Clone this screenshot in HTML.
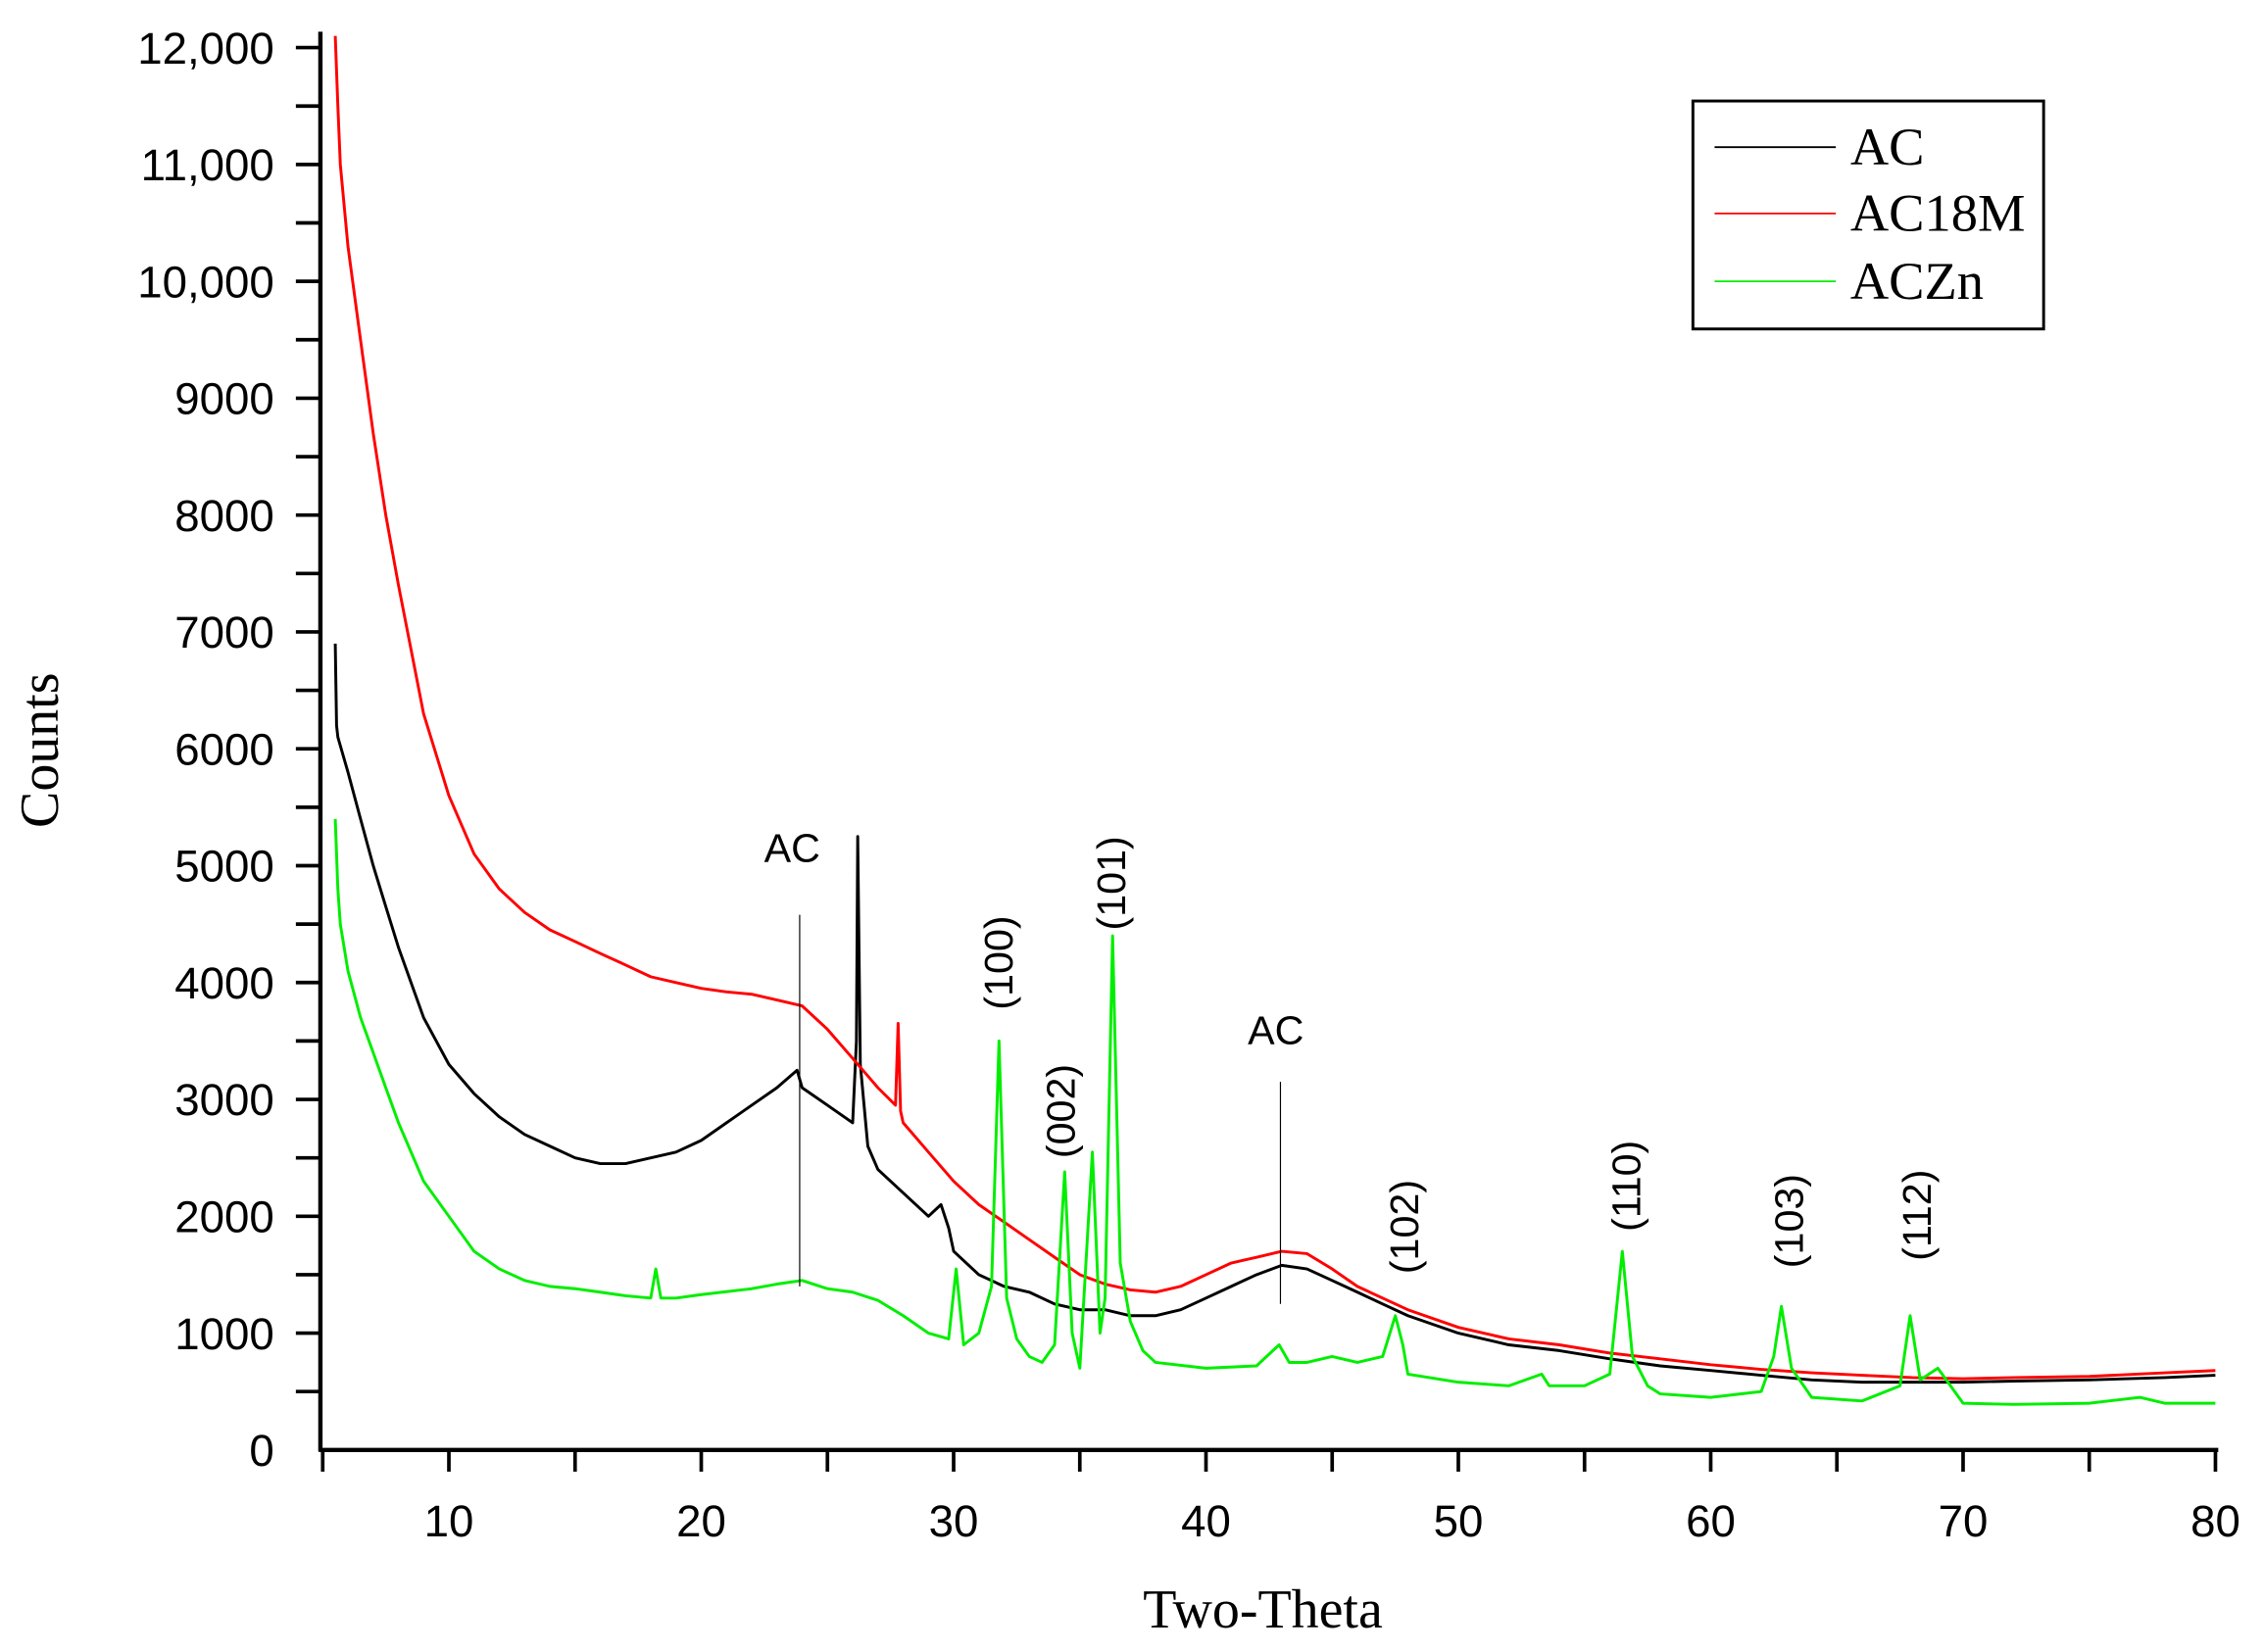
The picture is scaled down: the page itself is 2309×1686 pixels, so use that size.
<!DOCTYPE html>
<html><head><meta charset="utf-8"><style>
html,body{margin:0;padding:0;background:#fff;}
svg{display:block;}
</style></head><body>
<svg id="chart" width="2309" height="1686" viewBox="0 0 1568 1145" preserveAspectRatio="none" xmlns="http://www.w3.org/2000/svg">
<rect x="0" y="0" width="1568" height="1145" fill="#fff"/>
<g id="plot"></g>
<g id="axes"></g>
<g id="legend">
<rect x="1173" y="70" width="243" height="158" fill="#fff" stroke="#000" stroke-width="2"/>
<line x1="1188" y1="102" x2="1272" y2="102" stroke="#000" stroke-width="1.2"/>
<text x="1282" y="114" font-family="Liberation Serif, serif" font-size="37">AC</text>
<line x1="1188" y1="148" x2="1272" y2="148" stroke="#f00" stroke-width="1.2"/>
<text x="1282" y="160" font-family="Liberation Serif, serif" font-size="37">AC18M</text>
<line x1="1188" y1="195" x2="1272" y2="195" stroke="#0e0" stroke-width="1.2"/>
<text x="1282" y="207" font-family="Liberation Serif, serif" font-size="37">ACZn</text>
</g>
</svg>
<script>
const acX=[5.5,5.55,5.6,6,6.5,7,7.5,8,9,10,11,12,13,14,15,16,17,18,19,20,21,22,23,23.8,24,25,26,26.15,26.2,26.3,26.6,27,28,29,29.5,29.8,30,31,32,33,34,35,36,37,38,39,40,41,42,43,44,45,46,47,48,50,52,54,56,58,60,62,64,66,68,70,72,75,78,80];
const acY=[6900,6200,6100,5800,5400,5000,4650,4300,3700,3300,3050,2850,2700,2600,2500,2450,2450,2500,2550,2650,2800,2950,3100,3250,3100,2950,2800,3500,5250,3300,2600,2400,2200,2000,2100,1900,1700,1500,1400,1350,1250,1200,1200,1150,1150,1200,1300,1400,1500,1580,1550,1450,1350,1250,1150,1000,900,850,780,720,680,640,600,580,580,580,590,600,620,640];
const m18X=[5.5,5.6,5.7,6,6.5,7,7.5,8,9,10,11,12,13,14,15,16,17,18,19,20,21,22,23,24,25,26,27,27.7,27.8,27.9,28,29,30,31,32,33,34,35,36,37,38,39,40,41,42,43,44,45,46,47,48,50,52,54,56,58,60,62,64,66,68,70,72,75,78,80];
const m18Y=[12100,11500,11000,10300,9500,8700,8000,7400,6300,5600,5100,4800,4600,4450,4350,4250,4150,4050,4000,3950,3920,3900,3850,3800,3600,3350,3100,2950,3650,2900,2800,2550,2300,2100,1950,1800,1650,1500,1420,1370,1350,1400,1500,1600,1650,1700,1680,1550,1400,1300,1200,1050,950,900,830,780,730,690,660,640,620,610,620,630,660,680];
const znX=[5.5,5.6,5.7,6,6.5,7,7.5,8,9,10,11,12,13,14,15,16,17,18,18.2,18.4,19,20,22,23,24,25,26,27,28,29,29.8,30.1,30.4,31,31.5,31.8,32.1,32.5,33,33.5,34,34.4,34.7,35,35.5,35.8,36,36.3,36.6,37,37.5,38,40,42,42.9,43.3,44,45,46,47,47.5,47.8,48,50,52,53.3,53.6,55,56,56.5,56.9,57.5,58,60,62,62.5,62.8,63.2,64,66,67.5,67.9,68.3,69,70,72,75,77,78,80];
const znY=[5400,4800,4500,4100,3700,3400,3100,2800,2300,2000,1700,1550,1450,1400,1380,1350,1320,1300,1550,1300,1300,1330,1380,1420,1450,1380,1350,1280,1150,1000,950,1550,900,1000,1400,3500,1300,950,800,750,900,2380,1000,700,2550,1000,1300,4400,1600,1100,850,750,700,720,900,750,750,800,750,800,1150,900,650,580,550,650,550,550,650,1700,800,550,480,450,500,800,1230,700,450,420,550,1150,600,700,400,390,400,450,400,400];
const xTicks=[10,20,30,40,50,60,70,80];
const yTicks=[0,1000,2000,3000,4000,5000,6000,7000,8000,9000,10000,11000,12000];
const yTickLabels=["0","1000","2000","3000","4000","5000","6000","7000","8000","9000","10,000","11,000","12,000"];
const annX=[23.6,31.79,34.25,36.25,42.77,47.86,56.67,63.1,68.17];
const annY=[5150,4170,2900,4850,3590,1910,2260,1960,2010];
const annText=["AC","(100)","(002)","(101)","AC","(102)","(110)","(103)","(112)"];
const annRot=[0,1,1,1,0,1,1,1,1];
const dropX=[23.9,42.95];
const dropTop=[4580,3150];
const dropBot=[1400,1250];

const NS="http://www.w3.org/2000/svg";
function sx(v){return 223.6+(v-5)*17.486;}
function sy(v){return 1005-v*0.081;}
const plot=document.getElementById('plot');
const axes=document.getElementById('axes');
function mk(tag,attrs,parent){const e=document.createElementNS(NS,tag);for(const k in attrs)e.setAttribute(k,attrs[k]);parent.appendChild(e);return e;}

function series(xs,ys,color,name){
  const p=mk('polyline',{points:xs.map((x,i)=>sx(x).toFixed(1)+','+sy(ys[i]).toFixed(1)).join(' '),fill:'none',stroke:color,'stroke-width':2,'stroke-linejoin':'round'},plot);
  
  
}
series(acX,acY,'#000','series-ac');
series(m18X,m18Y,'#f00','series-ac18m');
series(znX,znY,'#0e0','series-aczn');
dropX.forEach((x,i)=>{
  const l=mk('line',{x1:sx(x),x2:sx(x),y1:sy(dropTop[i]),y2:sy(dropBot[i]),stroke:'#000','stroke-width':0.8},plot);
  
  
});
annX.forEach((x,i)=>{
  const t=mk('text',{x:sx(x),y:sy(annY[i]),'font-family':'Liberation Sans, sans-serif','font-size':28,'text-anchor':'middle','dominant-baseline':'central'},plot);
  if(annRot[i])t.setAttribute('transform','rotate(-90 '+sx(x)+' '+sy(annY[i])+')');
  t.textContent=annText[i];
  
  
});

const ya=mk('line',{x1:222,x2:222,y1:22,y2:1006,stroke:'#000','stroke-width':3},axes);


const xa=mk('line',{x1:221,x2:1537,y1:1005,y2:1005,stroke:'#000','stroke-width':3},axes);


for(let v=500;v<=12000;v+=500){
  const t=mk('line',{x1:205,x2:222,y1:sy(v),y2:sy(v),stroke:'#000','stroke-width':2.5},axes);
  
  
}
yTicks.forEach((v,i)=>{
  const t=mk('text',{x:190,y:sy(v)+11,'font-family':'Liberation Sans, sans-serif','font-size':31,'text-anchor':'end'},axes);
  t.textContent=yTickLabels[i];
  
  
});
for(let v=5;v<=80;v+=5){
  const t=mk('line',{x1:sx(v),x2:sx(v),y1:1005,y2:1020,stroke:'#000','stroke-width':2.5},axes);
  
  
}
xTicks.forEach(v=>{
  const t=mk('text',{x:sx(v),y:1065,'font-family':'Liberation Sans, sans-serif','font-size':31,'text-anchor':'middle'},axes);
  t.textContent=String(v);
  
  
});
const xt=mk('text',{x:875,y:1128,'font-family':'Liberation Serif, serif','font-size':38,'text-anchor':'middle'},axes);
xt.textContent='Two-Theta';


const yt=mk('text',{x:40,y:520,'font-family':'Liberation Serif, serif','font-size':38,'text-anchor':'middle',transform:'rotate(-90 40 520)'},axes);
yt.textContent='Counts';


</script>
</body></html>
